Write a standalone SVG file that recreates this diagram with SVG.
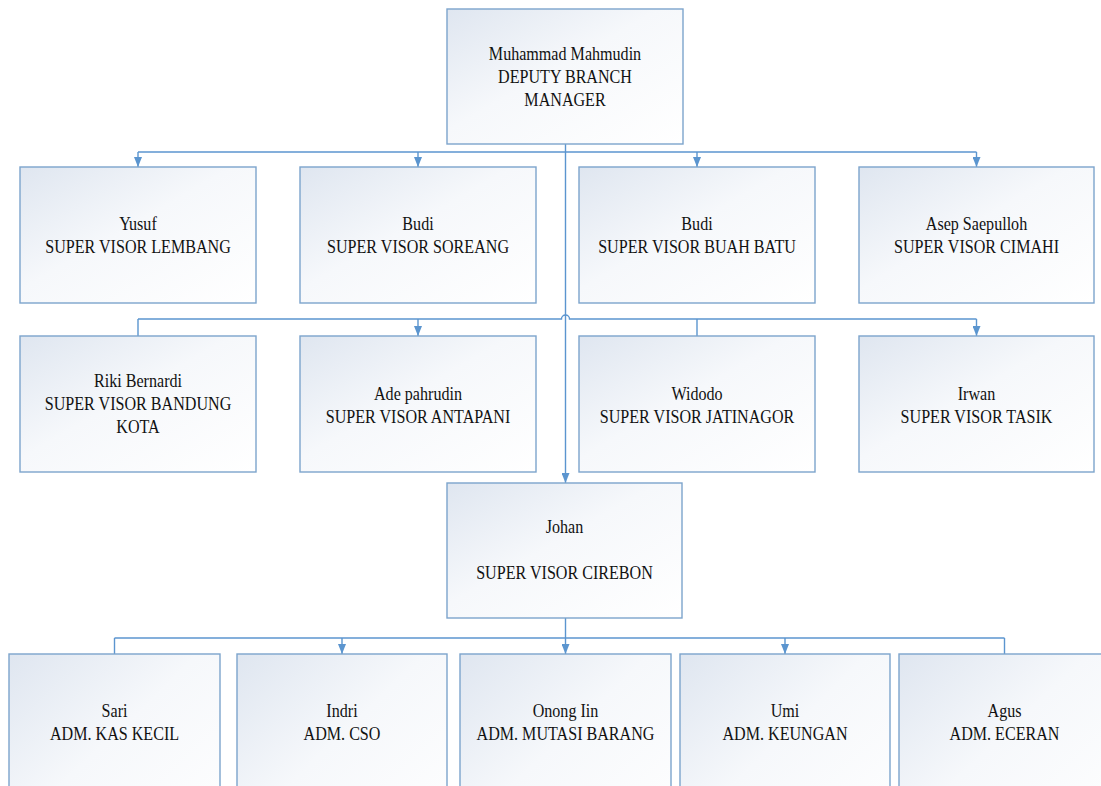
<svg xmlns="http://www.w3.org/2000/svg" width="1101" height="786" viewBox="0 0 1101 786">
<defs>
<linearGradient id="fill" x1="0" y1="0" x2="1" y2="1">
<stop offset="0" stop-color="#dfe6f0"/>
<stop offset="0.45" stop-color="#f6f8fb"/>
<stop offset="1" stop-color="#ffffff"/>
</linearGradient>
<marker id="arr" markerUnits="userSpaceOnUse" markerWidth="10" markerHeight="8" refX="10" refY="4" orient="auto">
<path d="M0,0 L10,4 L0,8 z" fill="#5b95cf"/>
</marker>
<style>
.box{fill:url(#fill);stroke:#7ca4cc;stroke-width:1.4}
.c{fill:none;stroke:#5b95cf;stroke-width:1.4}
.a{marker-end:url(#arr)}
.t{font-family:"Liberation Serif","Times New Roman",serif;font-size:18.5px;fill:#111111;text-anchor:middle}
</style>
</defs>
<rect width="1101" height="786" fill="#ffffff"/>
<g id="connectors">
<path class="c" d="M565.5,144 V152"/>
<path class="c" d="M138,152 H976.5"/>
<path class="c a" d="M138,152 V167"/>
<path class="c a" d="M418,152 V167"/>
<path class="c a" d="M697,152 V167"/>
<path class="c a" d="M976.5,152 V167"/>
<path class="c" d="M138,319 H561.5 a4,4 0 0 1 8,0 H976.5"/>
<path class="c" d="M138,319 V336"/>
<path class="c a" d="M418,319 V336"/>
<path class="c" d="M697,319 V336"/>
<path class="c a" d="M976.5,319 V336"/>
<path class="c a" d="M565.5,152 V483"/>
<path class="c a" d="M565.5,618 V654"/>
<path class="c" d="M114.5,638 H1004.5"/>
<path class="c" d="M114.5,638 V654"/>
<path class="c a" d="M342,638 V654"/>
<path class="c a" d="M785,638 V654"/>
<path class="c" d="M1004.5,638 V654"/>
</g>
<g id="n-manager">
<rect class="box" x="447" y="9" width="236" height="135"/>
<text class="t" transform="translate(565 60) scale(0.87 1)">Muhammad Mahmudin</text>
<text class="t" transform="translate(565 83) scale(0.87 1)">DEPUTY BRANCH</text>
<text class="t" transform="translate(565 106) scale(0.87 1)">MANAGER</text>
</g>
<g id="n-yusuf">
<rect class="box" x="20" y="167" width="236" height="136"/>
<text class="t" transform="translate(138 229.5) scale(0.87 1)">Yusuf</text>
<text class="t" transform="translate(138 252.5) scale(0.87 1)">SUPER VISOR LEMBANG</text>
</g>
<g id="n-budi-soreang">
<rect class="box" x="300" y="167" width="236" height="136"/>
<text class="t" transform="translate(418 229.5) scale(0.87 1)">Budi</text>
<text class="t" transform="translate(418 252.5) scale(0.87 1)">SUPER VISOR SOREANG</text>
</g>
<g id="n-budi-buahbatu">
<rect class="box" x="579" y="167" width="236" height="136"/>
<text class="t" transform="translate(697 229.5) scale(0.87 1)">Budi</text>
<text class="t" transform="translate(697 252.5) scale(0.87 1)">SUPER VISOR BUAH BATU</text>
</g>
<g id="n-asep">
<rect class="box" x="859" y="167" width="235" height="136"/>
<text class="t" transform="translate(976.5 229.5) scale(0.87 1)">Asep Saepulloh</text>
<text class="t" transform="translate(976.5 252.5) scale(0.87 1)">SUPER VISOR CIMAHI</text>
</g>
<g id="n-riki">
<rect class="box" x="20" y="336" width="236" height="136"/>
<text class="t" transform="translate(138 387) scale(0.87 1)">Riki Bernardi</text>
<text class="t" transform="translate(138 410) scale(0.87 1)">SUPER VISOR BANDUNG</text>
<text class="t" transform="translate(138 433) scale(0.87 1)">KOTA</text>
</g>
<g id="n-ade">
<rect class="box" x="300" y="336" width="236" height="136"/>
<text class="t" transform="translate(418 399.5) scale(0.87 1)">Ade pahrudin</text>
<text class="t" transform="translate(418 422.5) scale(0.87 1)">SUPER VISOR ANTAPANI</text>
</g>
<g id="n-widodo">
<rect class="box" x="579" y="336" width="236" height="136"/>
<text class="t" transform="translate(697 399.5) scale(0.87 1)">Widodo</text>
<text class="t" transform="translate(697 422.5) scale(0.87 1)">SUPER VISOR JATINAGOR</text>
</g>
<g id="n-irwan">
<rect class="box" x="859" y="336" width="235" height="136"/>
<text class="t" transform="translate(976.5 399.5) scale(0.87 1)">Irwan</text>
<text class="t" transform="translate(976.5 422.5) scale(0.87 1)">SUPER VISOR TASIK</text>
</g>
<g id="n-johan">
<rect class="box" x="447" y="483" width="235" height="135"/>
<text class="t" transform="translate(564.5 533) scale(0.87 1)">Johan</text>
<text class="t" transform="translate(564.5 579) scale(0.87 1)">SUPER VISOR CIREBON</text>
</g>
<g id="n-sari">
<rect class="box" x="9" y="654" width="211" height="200"/>
<text class="t" transform="translate(114.5 717) scale(0.87 1)">Sari</text>
<text class="t" transform="translate(114.5 739.5) scale(0.87 1)">ADM. KAS KECIL</text>
</g>
<g id="n-indri">
<rect class="box" x="237" y="654" width="210" height="200"/>
<text class="t" transform="translate(342 717) scale(0.87 1)">Indri</text>
<text class="t" transform="translate(342 739.5) scale(0.87 1)">ADM. CSO</text>
</g>
<g id="n-onong">
<rect class="box" x="460" y="654" width="211" height="200"/>
<text class="t" transform="translate(565.5 717) scale(0.87 1)">Onong Iin</text>
<text class="t" transform="translate(565.5 739.5) scale(0.87 1)">ADM. MUTASI BARANG</text>
</g>
<g id="n-umi">
<rect class="box" x="680" y="654" width="210" height="200"/>
<text class="t" transform="translate(785 717) scale(0.87 1)">Umi</text>
<text class="t" transform="translate(785 739.5) scale(0.87 1)">ADM. KEUNGAN</text>
</g>
<g id="n-agus">
<rect class="box" x="899" y="654" width="211" height="200"/>
<text class="t" transform="translate(1004.5 717) scale(0.87 1)">Agus</text>
<text class="t" transform="translate(1004.5 739.5) scale(0.87 1)">ADM. ECERAN</text>
</g>
</svg>
